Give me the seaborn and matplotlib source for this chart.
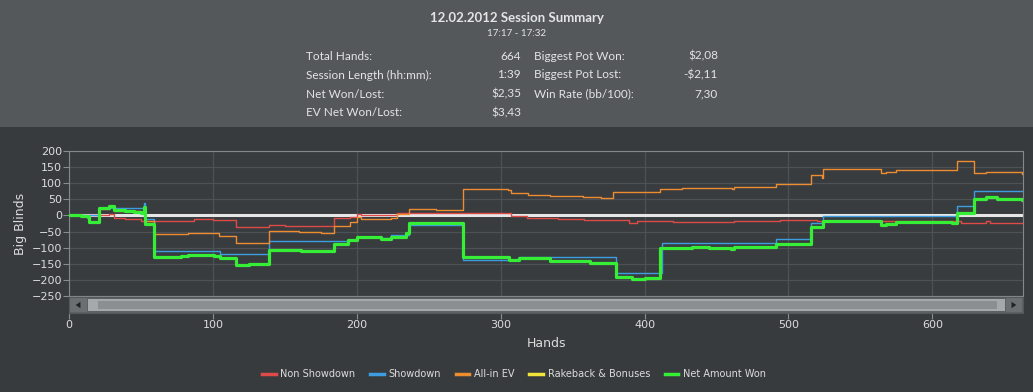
import matplotlib
matplotlib.use("Agg")
import matplotlib.pyplot as plt
from matplotlib.patches import Rectangle, Polygon
import pandas as pd
import seaborn as sns

# Session data (step breakpoints: hand, big blinds)
net_hands = [0, 8, 13, 14, 21, 24, 28, 31, 39, 45, 50, 52, 53, 59, 78, 83, 101, 105, 116, 125, 139, 161,
             184, 194, 200, 217, 224, 234, 236, 255, 274, 306, 313, 334, 362, 380, 391, 400, 411, 433,
             445, 460, 462, 491, 516, 524, 545, 564, 568, 575, 614, 617, 629, 637, 645, 662, 664]
net_bb = [0, -2, -5, -19, 22, 24, 30, 16, 14, 11, 8, 26, -27, -128, -126, -123, -125, -133, -154, -152, -107, -110,
          -89, -76, -66, -72, -66, -54, -23, -25, -128, -138, -133, -140, -147, -190, -196, -194, -102, -99,
          -101, -103, -98, -90, -37, -17, -18, -30, -27, -20, -22, 8, 50, 56, 52, 47, 47]

sd_hands = [0, 20, 21, 51, 52, 53, 59, 105, 139, 194, 200, 217, 224, 236, 274, 313, 380, 412, 491, 516,
            524, 617, 629, 664]
sd_bb = [0, -1, 24, 24, 38, -11, -111, -120, -80, -75, -68, -70, -62, -30, -138, -130, -178, -84, -74, -25,
         -2, 30, 76, 76]

nsd_hands = [0, 20, 28, 31, 39, 50, 87, 100, 116, 139, 150, 184, 195, 200, 203, 228, 272, 300, 307, 318,
             340, 358, 389, 395, 420, 462, 494, 520, 524, 620, 637, 640, 662, 664]
nsd_bb = [0, 2, 5, -9, -12, -16, -12, -14, -37, -30, -33, -9, -6, 4, 0, 7, 9, 8, -2, -9,
          -12, -14, -22, -17, -20, -17, -14, -16, -18, -22, -17, -22, -25, -25]

ev_hands = [0, 8, 13, 14, 21, 28, 31, 50, 52, 53, 59, 83, 104, 116, 139, 160, 175, 184, 195, 200, 203, 224,
            228, 236, 255, 274, 305, 307, 319, 334, 357, 370, 378, 390, 395, 411, 426, 461, 462, 491, 516,
            523, 524, 564, 568, 575, 617, 629, 637, 662, 664]
ev_bb = [0, -2, -5, -19, 20, 28, 15, 8, 22, -18, -59, -55, -64, -87, -47, -50, -55, -33, -20, -6, -12, -9,
         4, 19, 16, 81, 79, 69, 63, 60, 57, 53, 72, 74, 72, 82, 84, 81, 89, 98, 125,
         117, 143, 133, 134, 140, 170, 131, 136, 128, 128]

rb_hands = [0, 664]
rb_bb = [0, 0]

series_names = ["Non Showdown", "Showdown", "All-in EV", "Rakeback & Bonuses", "Net Amount Won"]
series_colors = ["#dd4a48", "#3c9de0", "#ee8d30", "#f2e33a", "#35ee35"]
series_data = [(nsd_hands, nsd_bb), (sd_hands, sd_bb), (ev_hands, ev_bb), (rb_hands, rb_bb), (net_hands, net_bb)]

stat_labels_1 = ["Total Hands:", "Session Length (hh:mm):", "Net Won/Lost:", "EV Net Won/Lost:"]
stat_values_1 = ["664", "1:39", "$2,35", "$3,43"]
stat_labels_2 = ["Biggest Pot Won:", "Biggest Pot Lost:", "Win Rate (bb/100):"]
stat_values_2 = ["$2,08", "-$2,11", "7,30"]

x_ticks = [0, 100, 200, 300, 400, 500, 600]
y_ticks = [-250, -200, -150, -100, -50, 0, 50, 100, 150, 200]

frames = []
for name, (h, v) in zip(series_names, series_data):
    frames.append(pd.DataFrame({"Hands": h, "Big Blinds": v, "Series": name}))
df = pd.concat(frames, ignore_index=True)

W, H = 1033, 392
fig = plt.figure(figsize=(W / 100, H / 100), dpi=100, facecolor="#383b3e")

# header panel
fig.patches.append(Rectangle((0, 1 - 127 / H), 1, 127 / H, transform=fig.transFigure,
                             facecolor="#55585b", edgecolor="none", zorder=0))

hfont = "Lato"
tc = "#e4e4e4"
fig.text(517 / W, 1 - 18 / H, "12.02.2012 Session Summary", ha="center", va="center",
         fontsize=9.5, fontweight="bold", color=tc, family=hfont)
fig.text(517 / W, 1 - 34 / H, "17:17 - 17:32", ha="center", va="center", fontsize=7, color=tc, family=hfont)
row_y = [56, 75, 94, 113]
for i, (lab, val) in enumerate(zip(stat_labels_1, stat_values_1)):
    fig.text(306 / W, 1 - row_y[i] / H, lab, ha="left", va="center", fontsize=8.5, color=tc, family=hfont)
    fig.text(521 / W, 1 - row_y[i] / H, val, ha="right", va="center", fontsize=8.5, color=tc, family=hfont)
for i, (lab, val) in enumerate(zip(stat_labels_2, stat_values_2)):
    fig.text(534 / W, 1 - row_y[i] / H, lab, ha="left", va="center", fontsize=8.5, color=tc, family=hfont)
    fig.text(718 / W, 1 - row_y[i] / H, val, ha="right", va="center", fontsize=8.5, color=tc, family=hfont)

# main plot
left, right = 69 / W, 1023 / W
ax = fig.add_axes([left, 1 - 296 / H, right - left, 145 / H])
ax.set_facecolor("#393c3f")
ax.axhline(0, color="#e6e6e6", lw=2.2, zorder=2.5)
zorders = {"Rakeback & Bonuses": 2, "Net Amount Won": 5}
for name, color in zip(series_names, series_colors):
    sub = df[df["Series"] == name]
    lw = 2.3 if name == "Net Amount Won" else 1.0
    sns.lineplot(data=sub, x="Hands", y="Big Blinds", color=color, lw=lw, drawstyle="steps-post",
                 ax=ax, label=name, zorder=zorders.get(name, 3),
                 estimator=None, sort=False)
ax.set_xlim(0, 663)
ax.set_ylim(-250, 200)
ax.set_yticks(y_ticks)
ax.set_xticks(x_ticks)
ax.grid(True, color="#4e5155", lw=0.9)
ax.set_axisbelow(True)
ax.tick_params(axis="x", length=0, labelbottom=False)
ax.tick_params(axis="y", length=4, color="#8a8d90", labelsize=8, labelcolor="#dcdcdc", pad=1)
for s in ax.spines.values():
    s.set_color("#85888b")
ax.set_xlabel("")
ax.set_ylabel("Big Blinds", color="#dcdcdc", fontsize=9, labelpad=3)
ax.legend_.remove()

# scrollbar strip with x ticks under it
sb = fig.add_axes([left, 1 - 313 / H, right - left, 16 / H], sharex=ax)
sb.set_facecolor("#5e6164")
sb.set_ylim(0, 1)
sb.set_yticks([])
sb.add_patch(Rectangle((0.001, 0.08), 0.018, 0.84, transform=sb.transAxes, facecolor="#6c6f72", edgecolor="none"))
sb.add_patch(Polygon([(0.007, 0.5), (0.012, 0.7), (0.012, 0.3)], closed=True, transform=sb.transAxes,
                     facecolor="#202224", edgecolor="none"))
sb.add_patch(Rectangle((0.020, 0.1), 0.961, 0.8, transform=sb.transAxes, facecolor="#a6a9ab", edgecolor="none"))
sb.add_patch(Rectangle((0.030, 0.22), 0.943, 0.56, transform=sb.transAxes, facecolor="#8c8f91", edgecolor="none"))
sb.add_patch(Rectangle((0.982, 0.08), 0.017, 0.84, transform=sb.transAxes, facecolor="#6c6f72", edgecolor="none"))
sb.add_patch(Polygon([(0.993, 0.5), (0.988, 0.7), (0.988, 0.3)], closed=True, transform=sb.transAxes,
                     facecolor="#202224", edgecolor="none"))
for s in sb.spines.values():
    s.set_color("#55585b")
sb.tick_params(axis="x", length=4, color="#8a8d90", labelsize=8, labelcolor="#dcdcdc", pad=1)
sb.set_xlabel("Hands", color="#dcdcdc", fontsize=9, labelpad=5)

# legend
handles, labels = ax.get_legend_handles_labels()
leg = fig.legend(handles, labels, loc="center", bbox_to_anchor=(514 / W, 1 - 374 / H), ncol=5,
                 frameon=False, fontsize=7, handlelength=1.4, columnspacing=1.5, handletextpad=0.5)
for line in leg.get_lines():
    line.set_linewidth(2.5)
for t in leg.get_texts():
    t.set_color("#dcdcdc")

plt.savefig("out.png", dpi=100, facecolor=fig.get_facecolor())
